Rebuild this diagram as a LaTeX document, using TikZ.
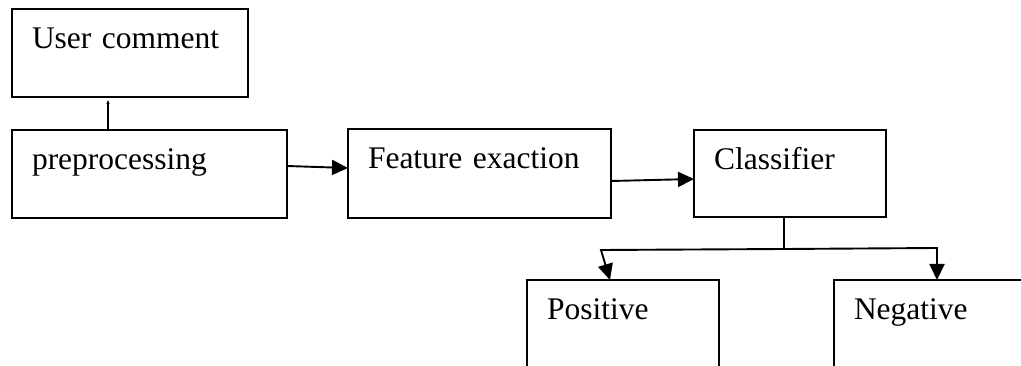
\documentclass[tikz,border=0pt]{standalone}
\usepackage{fontspec}
\setmainfont{Liberation Serif}
\usetikzlibrary{arrows.meta}
\begin{document}
\begin{tikzpicture}[x=1pt,y=-1pt,
  box/.style={draw, line width=1.9pt, anchor=north west, outer sep=0pt,
    inner xsep=20pt, inner ysep=0pt, align=left, text height=39.5pt,
    font=\fontsize{31.5}{38}\selectfont},
  arr/.style={line width=1.9pt, -{Triangle[length=16pt,width=15pt]}},
  tinyarr/.style={line width=1.9pt, -{Triangle[length=4pt,width=3pt]}},
  plain/.style={line width=1.9pt}]
\clip (0,0) rectangle (1021,366);
\node[box, text width=196pt, text depth=48.5pt] (uc) at (12,9) {User comment};
\node[box, text width=235pt, text depth=48.5pt] (pre) at (12,130) {preprocessing};
\node[box, text width=223pt, text depth=49.5pt] (fe) at (348,129) {Feature exaction};
\node[box, text width=152pt, text depth=47.5pt] (cl) at (694,130) {Classifier};
\node[box, text width=152pt, text depth=82pt] (pos) at (527,280) {Positive};
\node[box, text width=210pt, text depth=82pt] (neg) at (834,280) {Negative};
\coordinate (br) at (784,249);
\coordinate (bl) at (601,250);
\coordinate (bR) at (937,248);
\draw[tinyarr] ([xshift=96pt]pre.north west) -- ([xshift=96pt,yshift=-3pt]uc.south west);
\draw[arr] ([yshift=8pt]pre.east) -- ([yshift=5.5pt]fe.west);
\draw[arr] ([yshift=-7.5pt]fe.east) -- ([yshift=-5.5pt]cl.west);
\draw[plain] ([xshift=-6pt]cl.south) -- (br);
\draw[arr] (br) -- (bl) -- ([xshift=-13pt]pos.north);
\draw[arr] (br) -- (bR) -- (bR |- neg.north);
\end{tikzpicture}
\end{document}
